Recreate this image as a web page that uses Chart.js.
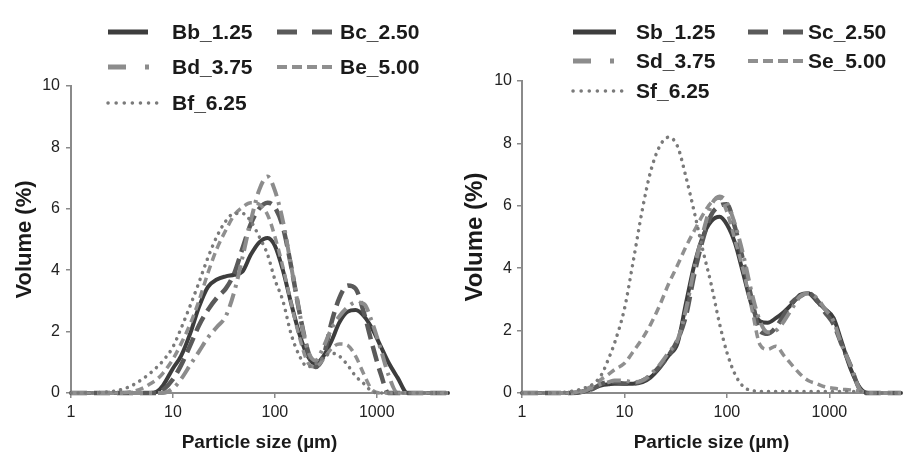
<!DOCTYPE html>
<html>
<head>
<meta charset="utf-8">
<script src="https://cdn.jsdelivr.net/npm/chart.js@4.4.1/dist/chart.umd.min.js"></script>
<style>
html,body{margin:0;padding:0;background:#fff;}
#wrap{display:flex;width:906px;height:454px;overflow:hidden;}
.box{position:relative;width:453px;height:454px;}
canvas{display:block;}
</style>
</head>
<body>
<div id="wrap">
  <div class="box"><canvas id="c1" width="453" height="454"></canvas></div>
  <div class="box"><canvas id="c2" width="453" height="454"></canvas></div>
</div>
<script>
// ---------- DATA ----------
const sizes = [1, 2, 3, 4, 5, 6, 7, 8, 10, 12, 15, 18, 22, 27, 33, 40, 48, 58, 70, 85, 100, 120, 145, 175, 210, 250, 300, 360, 430, 520, 620, 750, 900, 1100, 1300, 1600, 2000, 2400, 3000, 5000];

const leftNames  = ['Bb_1.25', 'Bc_2.50', 'Bd_3.75', 'Be_5.00', 'Bf_6.25'];
const rightNames = ['Sb_1.25', 'Sc_2.50', 'Sd_3.75', 'Se_5.00', 'Sf_6.25'];

const Bb = [0,0,0,0,0,0,0.05,0.25,0.8,1.2,2.0,2.8,3.45,3.7,3.8,3.85,3.95,4.5,4.9,5.05,4.8,4.0,2.9,1.9,1.2,0.95,1.2,1.7,2.3,2.65,2.7,2.5,2.1,1.5,1.0,0.5,0,0,0,0];
const Bc = [0,0,0,0,0,0,0,0.1,0.45,0.9,1.6,2.2,2.7,3.1,3.4,3.9,4.7,5.5,6.0,6.2,6.05,5.4,4.1,2.6,1.4,0.85,1.2,2.3,3.1,3.5,3.4,2.6,1.6,0.6,0,0,0,0,0,0];
const Bd = [0,0,0,0,0,0,0,0,0.15,0.45,0.95,1.35,1.8,2.15,2.5,3.3,4.4,5.6,6.6,7.05,6.6,5.6,4.1,2.6,1.4,1.05,1.5,2.1,2.5,2.8,2.95,2.9,2.3,1.4,0.6,0,0,0,0,0];
const Be = [0,0,0,0.05,0.15,0.3,0.45,0.65,1.1,1.6,2.3,3.0,3.9,4.7,5.3,5.8,6.05,6.2,6.15,5.8,5.1,4.1,2.9,1.8,1.0,0.85,1.1,1.45,1.6,1.55,1.2,0.6,0.1,0,0,0,0,0,0,0];
const Bf = [0,0.02,0.1,0.25,0.45,0.65,0.85,1.05,1.5,2.1,2.9,3.6,4.4,5.1,5.6,5.85,5.85,5.6,5.1,4.5,3.7,3.0,1.9,1.2,0.85,0.95,1.15,1.3,1.2,0.9,0.55,0.3,0.05,0,0,0,0,0,0,0];

const Sb = [0,0,0,0.05,0.15,0.25,0.28,0.3,0.3,0.3,0.35,0.5,0.8,1.2,1.6,2.9,4.1,5.0,5.5,5.65,5.4,4.8,3.8,2.8,2.3,2.25,2.4,2.6,2.85,3.15,3.2,2.95,2.7,2.4,1.7,0.8,0.15,0,0,0];
const Sc = [0,0,0,0.05,0.15,0.3,0.35,0.35,0.3,0.3,0.4,0.55,0.85,1.2,1.7,2.5,3.8,4.9,5.7,6.0,6.05,5.3,4.2,3.0,2.0,1.9,2.1,2.5,2.9,3.1,3.2,3.0,2.6,2.2,1.6,0.9,0.1,0,0,0];
const Sd = [0,0,0,0.05,0.2,0.3,0.35,0.4,0.4,0.35,0.4,0.6,0.9,1.3,1.7,2.7,4.0,5.1,6.0,6.3,6.1,5.4,4.4,3.2,2.3,1.95,2.0,2.3,2.7,3.1,3.2,3.05,2.7,2.3,1.6,0.9,0.1,0,0,0];
const Se = [0,0,0,0.1,0.25,0.45,0.6,0.75,0.95,1.3,1.75,2.2,2.8,3.5,4.1,4.7,5.2,5.7,6.1,6.25,5.8,4.9,3.9,2.7,1.55,1.4,1.5,1.2,0.9,0.6,0.4,0.3,0.2,0.15,0.12,0.1,0.05,0,0,0];
const Sf = [0,0,0.05,0.15,0.3,0.6,1.1,1.6,2.7,4.1,5.9,7.1,7.9,8.2,7.9,6.9,5.8,4.6,3.5,2.2,1.3,0.6,0.2,0.08,0.05,0.05,0.05,0.05,0.05,0.05,0.05,0.05,0.05,0.05,0.05,0.05,0.05,0,0,0];

const xTickValues = [1, 10, 100, 1000];
const yTickValues = [0, 2, 4, 6, 8, 10];

// ---------- STYLES ----------
const FAMILY = '"Liberation Sans", Arial, Helvetica, sans-serif';
const AXIS = '#8a8a8a';
const seriesStyles = [
  {color:'#3d3d3d', width:4,   dash:[],          cap:'round', lDash:[],           lCap:'butt',  lWidth:5},
  {color:'#5a5a5a', width:4.5, dash:[16,7],      cap:'butt',  lDash:[20,15],      lCap:'butt',  lWidth:5},
  {color:'#8c8c8c', width:4,   dash:[14,6,3,6],  cap:'butt',  lDash:[18,19,4,100],lCap:'butt',  lWidth:5},
  {color:'#8f8f8f', width:3.5, dash:[8,5],       cap:'butt',  lDash:[10,5],       lCap:'butt',  lWidth:4},
  {color:'#7a7a7a', width:3.5, dash:[0.1,7],     cap:'round', lDash:[0.1,8],      lCap:'round', lWidth:3.5}
];

function buildDatasets(names, series) {
  return names.map((n, i) => {
    const st = seriesStyles[i];
    return {
      label: n,
      data: sizes.map((s, k) => ({x: s, y: series[i][k]})),
      borderColor: st.color,
      borderWidth: st.width,
      borderDash: st.dash,
      borderCapStyle: st.cap,
      borderJoinStyle: 'round',
      pointRadius: 0,
      fill: false,
      cubicInterpolationMode: 'monotone',
      clip: 6,
      order: 4 - i
    };
  });
}

const manualLegend = {
  id: 'manualLegend',
  afterDraw(chart, args, opts) {
    const ctx = chart.ctx;
    ctx.save();
    chart.data.datasets.forEach((ds, i) => {
      const p = opts.items[i];
      const st = seriesStyles[i];
      ctx.beginPath();
      ctx.setLineDash(st.lDash);
      ctx.lineCap = st.lCap;
      ctx.lineWidth = st.lWidth;
      ctx.strokeStyle = st.color;
      ctx.moveTo(p.x0, p.y);
      ctx.lineTo(p.x1, p.y);
      ctx.stroke();
      ctx.setLineDash([]);
      ctx.fillStyle = '#1a1a1a';
      ctx.font = opts.font;
      ctx.textBaseline = 'middle';
      ctx.textAlign = 'left';
      ctx.fillText(ds.label, p.tx, p.y + 1);
    });
    ctx.restore();
  }
};

function makeChart(id, names, series, cfg) {
  return new Chart(document.getElementById(id), {
    type: 'line',
    data: {datasets: buildDatasets(names, series)},
    plugins: [manualLegend],
    options: {
      responsive: false,
      animation: false,
      devicePixelRatio: 1,
      layout: {padding: {left: 0, top: cfg.top, right: cfg.right, bottom: 0}},
      plugins: {
        legend: {display: false},
        tooltip: {enabled: false},
        manualLegend: {items: cfg.items, font: 'bold 21px ' + FAMILY}
      },
      scales: {
        x: {
          type: 'logarithmic', min: 1, max: 5000,
          afterBuildTicks: s => { s.ticks = xTickValues.map(v => ({value: v})); },
          afterFit: s => { s.height = 454 - 393; },
          ticks: {callback: v => String(v), font: {family: FAMILY, size: 16}, color: '#222', padding: 5, maxRotation: 0, autoSkip: false},
          grid: {display: true, drawOnChartArea: false, drawTicks: true, tickLength: 5, color: AXIS, lineWidth: 1.5},
          border: {display: true, color: AXIS, width: 2},
          title: {display: true, text: 'Particle size (µm)', font: {family: FAMILY, size: 19, weight: 'bold'}, color: '#1a1a1a', padding: {top: 0, bottom: 0}}
        },
        y: {
          min: 0, max: 10,
          afterBuildTicks: s => { s.ticks = yTickValues.map(v => ({value: v})); },
          afterFit: s => { s.width = cfg.yWidth; },
          ticks: {font: {family: FAMILY, size: 16}, color: '#222', padding: cfg.yPad},
          grid: {display: true, drawOnChartArea: false, drawTicks: true, tickLength: 5, color: AXIS, lineWidth: 1.5},
          border: {display: true, color: AXIS, width: 2},
          title: {display: true, text: 'Volume (%)', font: {family: FAMILY, size: cfg.yTitleSize, weight: 'bold'}, color: '#1a1a1a', padding: {top: cfg.yTitlePad, bottom: 0}}
        }
      }
    }
  });
}

makeChart('c1', leftNames, [Bb, Bc, Bd, Be, Bf], {
  top: 86, right: 5, yWidth: 71, yPad: 6, yTitleSize: 22, yTitlePad: 12,
  items: [
    {x0: 108, x1: 148, y: 32,  tx: 172},
    {x0: 277, x1: 333, y: 32,  tx: 340},
    {x0: 108, x1: 150, y: 67,  tx: 172},
    {x0: 277, x1: 333, y: 67,  tx: 340},
    {x0: 108, x1: 163, y: 103, tx: 172}
  ]
});

makeChart('c2', rightNames, [Sb, Sc, Sd, Se, Sf], {
  top: 81, right: 5, yWidth: 69, yPad: 5, yTitleSize: 24, yTitlePad: 8,
  items: [
    {x0: 120, x1: 163, y: 32, tx: 183},
    {x0: 295, x1: 353, y: 32, tx: 355},
    {x0: 120, x1: 163, y: 61, tx: 183},
    {x0: 295, x1: 353, y: 61, tx: 355},
    {x0: 120, x1: 173, y: 91, tx: 183}
  ]
});
</script>
</body>
</html>
